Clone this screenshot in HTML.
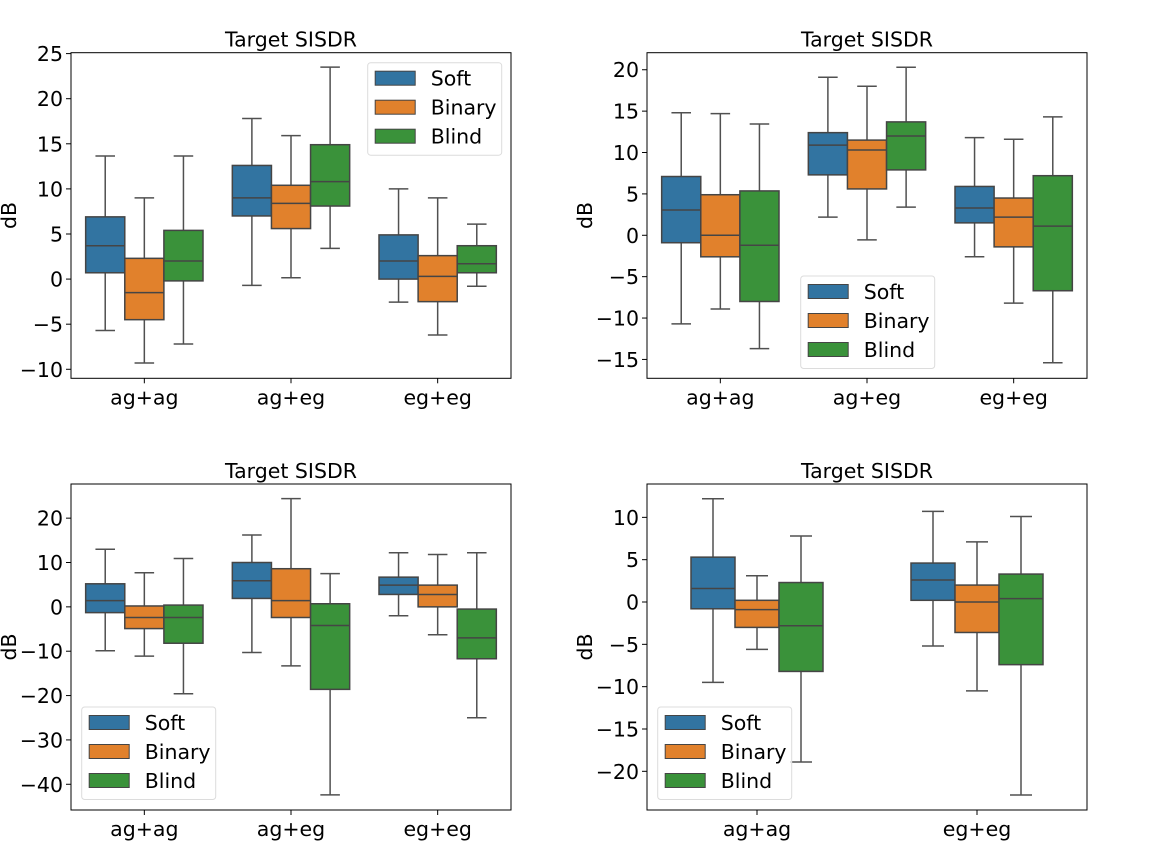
<!DOCTYPE html>
<html><head><meta charset="utf-8"><style>
html,body{margin:0;padding:0;background:#fff;}
svg{display:block;font-family:"DejaVu Sans","Liberation Sans",sans-serif;}
</style></head><body>
<svg id="fig" width="1152" height="864" viewBox="0 0 1152 864" xmlns="http://www.w3.org/2000/svg"></svg>
<script>
const seriesNames = ["Soft","Binary","Blind"];
const colors = ["#3274a1","#e1812c","#3a923a"];
// each stat array: [low whisker, q1, median, q3, high whisker]
const p1Categories = ["ag+ag","ag+eg","eg+eg"];
const p1Soft   = [[-5.7,0.7,3.7,6.9,13.65],[-0.7,7.0,9.0,12.6,17.8],[-2.55,0,2.0,4.9,10.0]];
const p1Binary = [[-9.3,-4.5,-1.5,2.3,9.0],[0.15,5.6,8.4,10.4,15.9],[-6.2,-2.5,0.3,2.6,9.0]];
const p1Blind  = [[-7.2,-0.2,2.0,5.4,13.65],[3.4,8.1,10.8,14.9,23.5],[-0.8,0.7,1.7,3.7,6.1]];
const p1Ticks = [-10,-5,0,5,10,15,20,25];

const p2Categories = ["ag+ag","ag+eg","eg+eg"];
const p2Soft   = [[-10.7,-0.9,3.06,7.1,14.8],[2.2,7.3,10.9,12.4,19.1],[-2.6,1.5,3.3,5.9,11.8]];
const p2Binary = [[-8.9,-2.6,0,4.9,14.7],[-0.56,5.6,10.3,11.5,18.0],[-8.2,-1.4,2.2,4.5,11.6]];
const p2Blind  = [[-13.7,-8.0,-1.2,5.36,13.45],[3.4,7.9,12.0,13.7,20.3],[-15.4,-6.7,1.1,7.2,14.3]];
const p2Ticks = [-15,-10,-5,0,5,10,15,20];

const p3Categories = ["ag+ag","ag+eg","eg+eg"];
const p3Soft   = [[-9.9,-1.3,1.4,5.2,13.0],[-10.3,1.9,5.9,10.0,16.2],[-2.0,2.8,4.9,6.7,12.2]];
const p3Binary = [[-11.1,-4.9,-2.4,0.2,7.7],[-13.3,-2.4,1.4,8.6,24.4],[-6.3,0.0,2.8,4.9,11.8]];
const p3Blind  = [[-19.6,-8.2,-2.4,0.4,10.9],[-42.4,-18.6,-4.2,0.7,7.5],[-25.0,-11.7,-7.0,-0.5,12.2]];
const p3Ticks = [-40,-30,-20,-10,0,10,20];

const p4Categories = ["ag+ag","eg+eg"];
const p4Soft   = [[-9.5,-0.8,1.6,5.3,12.2],[-5.2,0.2,2.6,4.6,10.7]];
const p4Binary = [[-5.6,-3.0,-0.9,0.2,3.1],[-10.5,-3.6,0,2.0,7.1]];
const p4Blind  = [[-18.9,-8.2,-2.8,2.3,7.8],[-22.8,-7.4,0.4,3.3,10.1]];
const p4Ticks = [-20,-15,-10,-5,0,5,10];

const NS="http://www.w3.org/2000/svg";
const svg=document.getElementById('fig');
function mk(tag,attrs,parent){const e=document.createElementNS(NS,tag);for(const k in attrs)e.setAttribute(k,attrs[k]);(parent||svg).appendChild(e);return e;}
function fmt(v){return v<0?"\u2212"+Math.abs(v):String(v);}
const FS=20.5;

const panels=[
 {name:"top-left",x0:71,x1:511,y0:52.7,y1:378.3,ymin:-11.0,ymax:25.1,cats:p1Categories,data:[p1Soft,p1Binary,p1Blind],ticks:p1Ticks,width:0.8,leg:[367.7,62.7]},
 {name:"top-right",x0:647,x1:1087,y0:52.7,y1:378.3,ymin:-17.28,ymax:22.06,cats:p2Categories,data:[p2Soft,p2Binary,p2Blind],ticks:p2Ticks,width:0.8,leg:[800.7,276]},
 {name:"bottom-left",x0:71,x1:511,y0:484,y1:810,ymin:-45.8,ymax:27.7,cats:p3Categories,data:[p3Soft,p3Binary,p3Blind],ticks:p3Ticks,width:0.8,leg:[81.7,707]},
 {name:"bottom-right",x0:647,x1:1087,y0:484,y1:810,ymin:-24.57,ymax:13.94,cats:p4Categories,data:[p4Soft,p4Binary,p4Blind],ticks:p4Ticks,width:0.6,leg:[657.7,707]}
];

panels.forEach(p=>{
  const g=mk('g',{});
  
  
  const y=v=>p.y1-(v-p.ymin)/(p.ymax-p.ymin)*(p.y1-p.y0);
  const band=(p.x1-p.x0)/p.cats.length;
  const cx=i=>p.x0+band*(i+0.5);
  const bw=band*p.width/3;
  const t=mk('text',{x:(p.x0+p.x1)/2,y:p.y0-6,'text-anchor':'middle','font-size':FS,fill:'#000'},g);
  t.textContent="Target SISDR";
  
  
  const yl=mk('text',{x:0,y:0,'text-anchor':'middle','font-size':FS,fill:'#000',transform:`translate(${p.x0-55},${(p.y0+p.y1)/2}) rotate(-90)`},g);
  yl.textContent="dB";
  
  
  p.ticks.forEach(v=>{
    const yy=y(v);
    mk('line',{x1:p.x0-5,x2:p.x0,y1:yy,y2:yy,stroke:'#000','stroke-width':1},g);
    const tl=mk('text',{x:p.x0-8,y:yy+7.5,'text-anchor':'end','font-size':FS,fill:'#000'},g);
    tl.textContent=fmt(v);
    
    
  });
  p.cats.forEach((c,i)=>{
    const xx=cx(i);
    mk('line',{x1:xx,x2:xx,y1:p.y1,y2:p.y1+5,stroke:'#000','stroke-width':1},g);
    const tl=mk('text',{x:xx,y:p.y1+26,'text-anchor':'middle','font-size':FS,fill:'#000'},g);
    tl.textContent=c;
    
    
  });
  p.data.forEach((series,s)=>{
    series.forEach((st,i)=>{
      const left=cx(i)-1.5*bw+s*bw, mid=left+bw/2;
      const bg=mk('g',{},g);
      
      
      const lc='#505050';
      mk('line',{x1:mid,x2:mid,y1:y(st[3]),y2:y(st[4]),stroke:lc,'stroke-width':1.5},bg);
      mk('line',{x1:mid,x2:mid,y1:y(st[1]),y2:y(st[0]),stroke:lc,'stroke-width':1.5},bg);
      mk('line',{x1:mid-bw/4,x2:mid+bw/4,y1:y(st[4]),y2:y(st[4]),stroke:lc,'stroke-width':1.5},bg);
      mk('line',{x1:mid-bw/4,x2:mid+bw/4,y1:y(st[0]),y2:y(st[0]),stroke:lc,'stroke-width':1.5},bg);
      mk('rect',{x:left,y:y(st[3]),width:bw,height:y(st[1])-y(st[3]),fill:colors[s],stroke:'#454545','stroke-width':1.5},bg);
      mk('line',{x1:left,x2:left+bw,y1:y(st[2]),y2:y(st[2]),stroke:'#454545','stroke-width':1.5},bg);
    });
  });
  mk('rect',{x:p.x0,y:p.y0,width:p.x1-p.x0,height:p.y1-p.y0,fill:'none',stroke:'#000','stroke-width':1},g);
  const lg=mk('g',{},g);
  
  
  const [lx,ly]=p.leg;
  mk('rect',{x:lx,y:ly,width:134,height:92.5,rx:3,fill:'#fff','fill-opacity':0.8,stroke:'#dcdcdc','stroke-width':1},lg);
  seriesNames.forEach((n,s)=>{
    const e=mk('g',{},lg);
    
    
    const yc=ly+15.5+s*29;
    mk('rect',{x:lx+7.5,y:yc-7,width:40,height:14,fill:colors[s],stroke:'#454545','stroke-width':1},e);
    const tx=mk('text',{x:lx+63,y:yc+7.5,'font-size':FS,fill:'#000'},e);
    tx.textContent=n;
  });
});
</script>
</body></html>
